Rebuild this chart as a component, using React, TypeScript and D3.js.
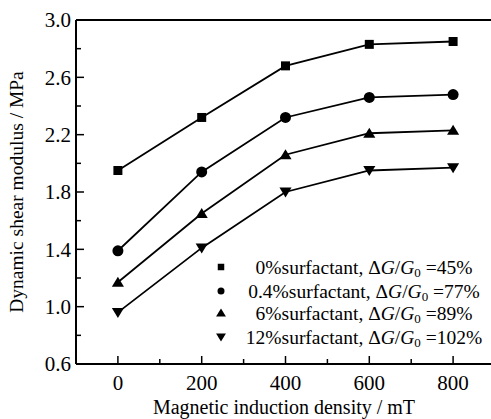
import React, { useRef, useEffect } from "react";
import * as d3 from "d3";

const fields = [0, 200, 400, 600, 800];
const s0 = [1.95, 2.32, 2.68, 2.83, 2.85];
const s04 = [1.39, 1.94, 2.32, 2.46, 2.48];
const s6 = [1.17, 1.65, 2.06, 2.21, 2.23];
const s12 = [0.96, 1.41, 1.8, 1.95, 1.97];
const seriesNames = ["0%surfactant", "0.4%surfactant", "6%surfactant", "12%surfactant"];
const ratios = ["45%", "77%", "89%", "102%"];
const markers = ["square", "circle", "up", "down"];
const yTicks = [0.6, 1.0, 1.4, 1.8, 2.2, 2.6, 3.0];
const xTicks = [0, 200, 400, 600, 800];

const FONT = "Liberation Serif, DejaVu Serif, serif";

function markerPath(kind: string, size: number) {
  const h = size / 2;
  if (kind === "square") return `M${-h},${-h}H${h}V${h}H${-h}Z`;
  if (kind === "circle") return d3.symbol(d3.symbolCircle, (size * size * Math.PI) / 4)()!;
  if (kind === "up") return `M0,${-h}L${h * 1.1},${h * 0.8}L${-h * 1.1},${h * 0.8}Z`;
  return `M0,${h}L${h * 1.1},${-h * 0.8}L${-h * 1.1},${-h * 0.8}Z`;
}

export default function App() {
  const ref = useRef<SVGSVGElement>(null);

  useEffect(() => {
    const svg = d3.select(ref.current);
    svg.selectAll("*").remove();

    const left = 76, top = 20, bottom = 364, right = 495;
    const x = d3.scaleLinear().domain([-100, 900]).range([left, right]);
    const y = d3.scaleLinear().domain([0.6, 3.0]).range([bottom, top]);

    const all = [s0, s04, s6, s12];

    // frame: left, top, bottom
    svg.append("line").attr("x1", left).attr("x2", 491).attr("y1", top).attr("y2", top)
      .attr("stroke", "#000").attr("stroke-width", 2);
    svg.append("line").attr("x1", left).attr("x2", 491).attr("y1", bottom).attr("y2", bottom)
      .attr("stroke", "#000").attr("stroke-width", 2);
    svg.append("line").attr("x1", left).attr("x2", left).attr("y1", top).attr("y2", bottom)
      .attr("stroke", "#000").attr("stroke-width", 2);

    // y ticks (inward)
    d3.range(0.6, 3.01, 0.2).forEach((v) => {
      const major = yTicks.some((t) => Math.abs(t - v) < 1e-6);
      svg.append("line").attr("x1", left).attr("x2", left + (major ? 8 : 5))
        .attr("y1", y(v)).attr("y2", y(v)).attr("stroke", "#000").attr("stroke-width", 1.5);
    });
    yTicks.forEach((t) => {
      svg.append("text").attr("x", left - 5).attr("y", y(t)).attr("dy", "0.35em")
        .attr("text-anchor", "end").style("font-family", FONT).style("font-size", "21px")
        .text(t.toFixed(1));
    });

    // x ticks (inward)
    d3.range(0, 801, 100).forEach((v) => {
      const major = xTicks.includes(v);
      svg.append("line").attr("x1", x(v)).attr("x2", x(v))
        .attr("y1", bottom).attr("y2", bottom - (major ? 8 : 5))
        .attr("stroke", "#000").attr("stroke-width", 1.5);
    });
    xTicks.forEach((t) => {
      svg.append("text").attr("x", x(t)).attr("y", bottom + 26)
        .attr("text-anchor", "middle").style("font-family", FONT).style("font-size", "21px")
        .text(t);
    });

    // axis titles
    svg.append("text").attr("x", 284).attr("y", 414).attr("text-anchor", "middle")
      .style("font-family", FONT).style("font-size", "20px").text("Magnetic induction density / mT");
    svg.append("text").attr("transform", `translate(23,${(top + bottom) / 2}) rotate(-90)`)
      .attr("text-anchor", "middle").style("font-family", FONT).style("font-size", "19.5px")
      .text("Dynamic shear modulus / MPa");

    // series
    const line = d3.line<number>().x((_, i) => x(fields[i])).y((d) => y(d));
    all.forEach((s, k) => {
      svg.append("path").attr("d", line(s)).attr("fill", "none")
        .attr("stroke", "#000").attr("stroke-width", 1.8);
      s.forEach((v, i) => {
        svg.append("path").attr("d", markerPath(markers[k], markers[k] === "square" ? 9 : 11))
          .attr("transform", `translate(${x(fields[i])},${y(v)})`).attr("fill", "#000");
      });
    });

    // legend
    const ly = [267, 291, 313, 337];
    seriesNames.forEach((name, k) => {
      svg.append("path").attr("d", markerPath(markers[k], markers[k] === "square" ? 6.5 : markers[k] === "circle" ? 7 : 9))
        .attr("transform", `translate(221,${ly[k]})`).attr("fill", "#000");
      const t = svg.append("text").attr("x", 364).attr("y", ly[k]).attr("dy", "0.35em")
        .attr("text-anchor", "middle").style("font-family", FONT).style("font-size", "19.5px");
      t.append("tspan").text(`${name}, \u0394`);
      t.append("tspan").style("font-style", "italic").text("G");
      t.append("tspan").text("/");
      t.append("tspan").style("font-style", "italic").text("G");
      t.append("tspan").style("font-size", "13px").attr("dy", "3").text("0");
      t.append("tspan").attr("dy", "-3").text(` =${ratios[k]}`);
    });
  }, []);

  return <svg ref={ref} width={491} height={419} style={{ display: "block", position: "absolute", left: 0, top: 0 }} />;
}
